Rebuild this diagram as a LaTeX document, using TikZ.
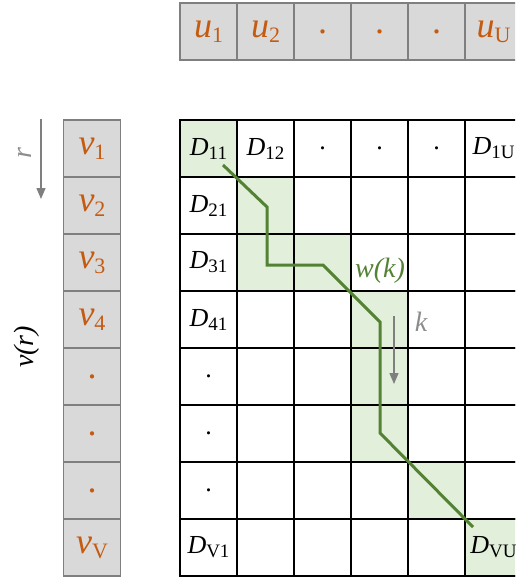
\documentclass[tikz,border=0pt]{standalone}
\usepackage{fontspec}
\setmainfont{Liberation Serif}
\usetikzlibrary{arrows.meta}
\definecolor{orng}{HTML}{C55A11}
\definecolor{boxfill}{HTML}{D9D9D9}
\definecolor{boxline}{HTML}{7F7F7F}
\definecolor{gfill}{HTML}{E2EFDA}
\definecolor{gline}{HTML}{548235}
\definecolor{txtgray}{HTML}{8C8C8C}
\newcommand\Dl[1]{\textit{D}\raisebox{-4pt}{\fontsize{19}{19}\selectfont #1}}
\newcommand\Ul[2]{\textit{#1}\raisebox{-5pt}{\fontsize{22}{22}\selectfont #2}}
\begin{document}
\begin{tikzpicture}[x=1pt,y=-1pt,
  gcell/.style={draw=boxline, line width=1.6pt, fill=boxfill, minimum width=57pt, minimum height=57pt, inner sep=0pt, text=orng, font=\fontsize{36}{36}\selectfont},
  mcell/.style={draw=black, line width=1.5pt, minimum width=57pt, minimum height=57pt, inner sep=0pt},
  gr/.style={mcell, fill=gfill},
  lab/.style={font=\fontsize{26}{26}\selectfont, inner sep=0pt},
  garrow/.style={draw=boxline, line width=1.4pt, -{Triangle[width=9pt,length=11pt]}},
  pathline/.style={draw=gline, line width=3pt}]
\useasboundingbox (0,0) rectangle (515,578);
\clip (0,0) rectangle (515,578);
% top row u
\node[gcell] (u1) at (208.5,31.5) {\Ul{u}{1}};
\node[gcell] (u2) at (265.5,31.5) {\Ul{u}{2}};
\node[gcell] (u3) at (322.5,31.5) {.};
\node[gcell] (u4) at (379.5,31.5) {.};
\node[gcell] (u5) at (436.5,31.5) {.};
\node[gcell] (u6) at (493.5,31.5) {\Ul{u}{U}};
% left column v
\node[gcell] (v1) at (92,148.5) {\Ul{v}{1}};
\node[gcell] (v2) at (92,205.5) {\Ul{v}{2}};
\node[gcell] (v3) at (92,262.5) {\Ul{v}{3}};
\node[gcell] (v4) at (92,319.5) {\Ul{v}{4}};
\node[gcell] (v5) at (92,376.5) {.};
\node[gcell] (v6) at (92,433.5) {.};
\node[gcell] (v7) at (92,490.5) {.};
\node[gcell] (v8) at (92,547.5) {\Ul{v}{V}};
% matrix
\foreach \r in {1,...,8}{
  \foreach \c in {1,...,6}{
    \node[mcell] (m\r\c) at ({208.5+57*(\c-1)},{148.5+57*(\r-1)}) {};
  }
}
\foreach \n in {m11,m22,m32,m33,m44,m54,m64,m75,m86}{
  \node[gr] at (\n) {};
}
\node[lab] at (m11) {\Dl{11}};
\node[lab] at (m12) {\Dl{12}};
\node[lab] at (m13) {.};
\node[lab] at (m14) {.};
\node[lab] at (m15) {.};
\node[lab] at (m16) {\Dl{1U}};
\node[lab] at (m21) {\Dl{21}};
\node[lab] at (m31) {\Dl{31}};
\node[lab] at (m41) {\Dl{41}};
\node[lab] at (m51) {.};
\node[lab] at (m61) {.};
\node[lab] at (m71) {.};
\node[lab] at (m81) {\Dl{V1}};
\node[lab] at (m86) {\Dl{VU}};
% warping path
\coordinate (p0) at (223,165);
\coordinate (p1) at (267,207);
\coordinate (p2) at (267,265);
\coordinate (p3) at (323,265);
\coordinate (p4) at (380,322);
\coordinate (p5) at (380,433);
\coordinate (p6) at (473,527);
\draw[pathline] (p0) -- (p1) -- (p2) -- (p3) -- (p4) -- (p5) -- (p6);
\node[text=gline, font=\fontsize{28}{28}\selectfont\itshape] (wk) at (380,271) {w(k)};
% k arrow
\coordinate (k0) at (394,316);
\coordinate (k1) at (394,384);
\draw[garrow] (k0) -- (k1);
\node[text=txtgray, font=\fontsize{28}{28}\selectfont\itshape] (kl) at (421,322) {k};
% r arrow
\coordinate (r0) at (41,119);
\coordinate (r1) at (41,199);
\draw[garrow] (r0) -- (r1);
\node[text=txtgray, rotate=90, font=\fontsize{28}{28}\selectfont\itshape] (rl) at (25,153) {r};
\node[rotate=90, font=\fontsize{28}{28}\selectfont\itshape] (vr) at (27,347) {v(r)};
\end{tikzpicture}
\end{document}
